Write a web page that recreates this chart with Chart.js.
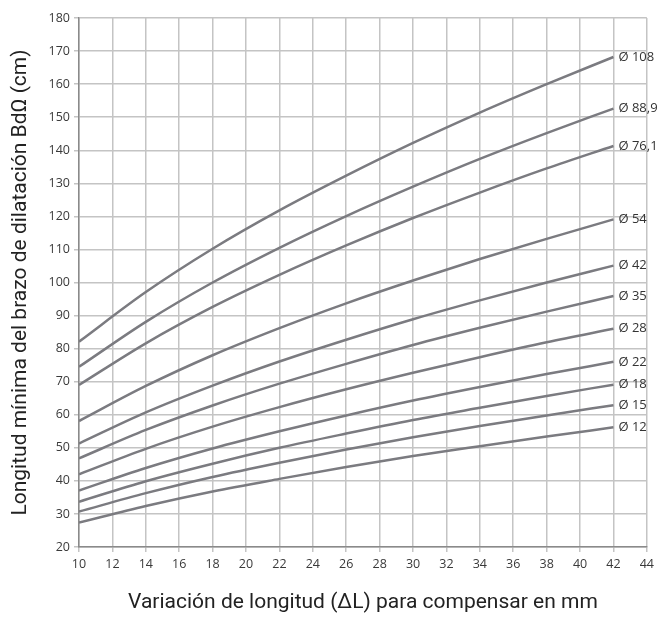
<!DOCTYPE html>
<html>
<head>
<meta charset="utf-8">
<script src="https://cdn.jsdelivr.net/npm/chart.js@4"></script>
<style>
  html, body { margin: 0; padding: 0; background: #fff; }
</style>
</head>
<body>
<canvas id="myChart" width="659" height="617"></canvas>
<script>
const xValues = [10, 14, 18, 22, 26, 30, 34, 38, 42]
const diameters = ['Ø 108', 'Ø 88,9', 'Ø 76,1', 'Ø 54', 'Ø 42', 'Ø 35', 'Ø 28', 'Ø 22', 'Ø 18', 'Ø 15', 'Ø 12']

const d108 = [82.1, 97.1, 110.2, 121.8, 132.3, 142.2, 151.4, 160.0, 168.2]
const d889 = [74.5, 88.1, 100.0, 110.5, 120.1, 129.0, 137.4, 145.2, 152.6]
const d761 = [69.0, 81.6, 92.6, 102.3, 111.2, 119.5, 127.2, 134.5, 141.3]
const d54 = [58.1, 68.7, 78.0, 86.2, 93.7, 100.6, 107.1, 113.2, 119.1]
const d42 = [51.3, 60.7, 68.8, 76.1, 82.7, 88.9, 94.6, 100.0, 105.1]
const d35 = [46.8, 55.4, 62.8, 69.4, 75.4, 81.1, 86.3, 91.2, 95.9]
const d28 = [42.0, 49.7, 56.4, 62.3, 67.7, 72.7, 77.4, 81.9, 86.0]
const d22 = [37.1, 43.9, 49.8, 55.0, 59.8, 64.3, 68.4, 72.3, 76.0]
const d18 = [33.7, 39.9, 45.2, 50.0, 54.3, 58.4, 62.1, 65.7, 69.1]
const d15 = [30.7, 36.3, 41.2, 45.5, 49.5, 53.2, 56.6, 59.8, 62.9]
const d12 = [27.4, 32.4, 36.8, 40.6, 44.2, 47.5, 50.5, 53.4, 56.2]

const series = [d108, d889, d761, d54, d42, d35, d28, d22, d18, d15, d12]

const lineColor = '#7b7b80'

// puts the "Ø xx" text right after the last point of every curve
const endLabels = {
  id: 'endLabels',
  afterDatasetsDraw(chart) {
    const ctx = chart.ctx
    ctx.save()
    ctx.font = '13px "Open Sans"'
    ctx.fillStyle = '#333'
    ctx.textBaseline = 'middle'
    chart.data.datasets.forEach((ds, i) => {
      const meta = chart.getDatasetMeta(i)
      const last = meta.data[meta.data.length - 1]
      ctx.fillText(ds.label, last.x + 5, last.y)
    })
    ctx.restore()
  }
}

const ctx = document.getElementById('myChart')
const myChart = new Chart(ctx, {
  type: 'line',
  data: {
    datasets: series.map((vals, i) => ({
      label: diameters[i],
      data: vals.map((v, j) => ({ x: xValues[j], y: v })),
      borderColor: lineColor,
      borderWidth: 2.5,
      pointRadius: 0,
      fill: false,
      cubicInterpolationMode: 'monotone'
    }))
  },
  options: {
    responsive: false,
    animation: false,
    layout: { padding: { top: 18, right: 8, left: 0, bottom: 0 } },
    plugins: {
      legend: { display: false },
      tooltip: { enabled: false }
    },
    scales: {
      x: {
        type: 'linear',
        min: 10,
        max: 44,
        ticks: { stepSize: 2, color: '#3a3a3a', font: { family: 'Open Sans', size: 12.5 }, padding: 5 },
        grid: { color: '#c4c4c4', lineWidth: 1.5, tickLength: 5 },
        border: { color: '#8a8a8a', width: 1.5 },
        title: {
          display: true,
          text: 'Variación de longitud (ΔL) para compensar en mm',
          color: '#222',
          font: { family: 'Roboto', size: 21 },
          padding: { top: 14, bottom: 2 }
        },
        afterFit(scale) { scale.height = 70 }
      },
      y: {
        min: 20,
        max: 180,
        ticks: { stepSize: 10, color: '#3a3a3a', font: { family: 'Open Sans', size: 12.5 }, padding: 4 },
        grid: { color: '#c4c4c4', lineWidth: 1.5, tickLength: 5 },
        border: { color: '#8a8a8a', width: 1.5 },
        title: {
          display: true,
          text: 'Longitud mínima del brazo de dilatación BdΩ (cm)',
          color: '#222',
          font: { family: 'Roboto', size: 21 },
          padding: { top: 8, bottom: 6 }
        },
        afterFit(scale) { scale.width = 79 }
      }
    }
  },
  plugins: [endLabels]
})
</script>
</body>
</html>
